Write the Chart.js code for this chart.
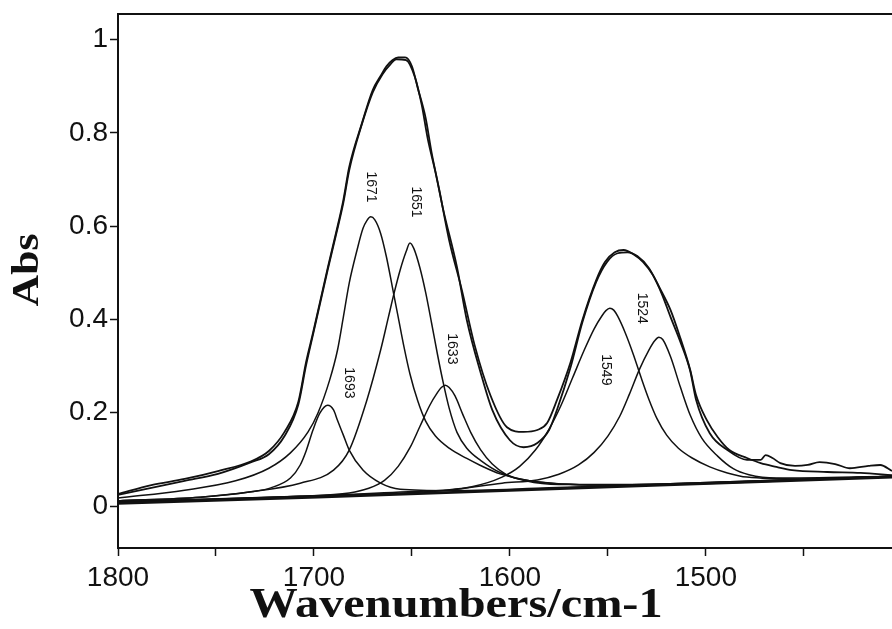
<!DOCTYPE html>
<html>
<head>
<meta charset="utf-8">
<script src="https://cdn.jsdelivr.net/npm/chart.js@4.4.1/dist/chart.umd.min.js"></script>
<style>
  html, body { margin: 0; padding: 0; background: #fff; }
  #wrap { width: 892px; height: 629px; position: relative; }
</style>
</head>
<body>
<div id="wrap"><canvas id="spectrum"></canvas></div>
<script>
// Amide I / amide II band fit: measured trace, fitted envelope, six component bands and the baseline.
// Points are [wavenumber, absorbance].

const xTicks = [1800, 1750, 1700, 1650, 1600, 1550, 1500, 1450];
const yTicks = [0, 0.2, 0.4, 0.6, 0.8, 1];

const measured = [
  [1800, 0.026], [1783, 0.045], [1766, 0.058], [1749, 0.075], [1732, 0.096], [1723, 0.118],
  [1715, 0.159], [1708, 0.223], [1704, 0.309], [1700.5, 0.371], [1693, 0.510], [1689, 0.581],
  [1685, 0.656], [1682, 0.727], [1675.5, 0.821], [1670, 0.892], [1666, 0.922], [1663, 0.943],
  [1660, 0.956], [1657, 0.962], [1653.5, 0.962], [1650, 0.943], [1647, 0.896], [1643, 0.832],
  [1640, 0.759], [1636, 0.677], [1631, 0.570], [1624.5, 0.463], [1618, 0.345], [1610, 0.238],
  [1601.5, 0.169], [1593, 0.159], [1586, 0.163], [1581, 0.178], [1576, 0.227], [1569, 0.309],
  [1563, 0.399], [1556, 0.484], [1551.5, 0.523], [1546.5, 0.544], [1542, 0.549], [1537, 0.540],
  [1532, 0.523], [1527, 0.495], [1522.5, 0.455], [1518, 0.405], [1513, 0.352], [1508, 0.290],
  [1505, 0.228], [1498, 0.156], [1489, 0.120], [1479, 0.099], [1472, 0.099], [1469.5, 0.109],
  [1466, 0.103], [1462, 0.092], [1454.5, 0.086], [1448, 0.088], [1442, 0.094], [1434, 0.090],
  [1426.5, 0.081], [1417, 0.086], [1411, 0.088], [1405, 0.075]
];

const fitted = [
  [1800, 0.024], [1783, 0.039], [1766, 0.054], [1749, 0.069], [1732, 0.094], [1723, 0.111],
  [1715, 0.150], [1708, 0.217], [1704, 0.302], [1700.5, 0.367], [1693, 0.506], [1689, 0.577],
  [1685, 0.650], [1682, 0.720], [1675.5, 0.819], [1670, 0.887], [1665, 0.926], [1661, 0.947],
  [1658, 0.958], [1653, 0.956], [1648.5, 0.920], [1645, 0.860], [1642, 0.789], [1638, 0.716],
  [1634, 0.635], [1627, 0.512], [1622, 0.399], [1615, 0.287], [1609, 0.206], [1600, 0.141],
  [1593, 0.126], [1586, 0.135], [1580, 0.163], [1576, 0.206], [1569, 0.298], [1563, 0.394],
  [1556, 0.480], [1550.5, 0.523], [1545, 0.542], [1540, 0.544], [1535, 0.536], [1529, 0.510],
  [1523.5, 0.467], [1518, 0.420], [1513, 0.360], [1508, 0.292], [1505, 0.238], [1499.5, 0.184],
  [1494, 0.148], [1488, 0.120], [1479, 0.103], [1472, 0.092], [1464, 0.084], [1456, 0.077],
  [1438, 0.073], [1421, 0.071], [1405, 0.066]
];

const baseline = [[1800, 0.006], [1698, 0.019], [1523.5, 0.045], [1405, 0.062]];

const band1693 = [
  [1800, 0.011], [1758, 0.019], [1733, 0.030], [1722, 0.039], [1712, 0.060], [1707, 0.088],
  [1704, 0.118], [1700.5, 0.163], [1697, 0.199], [1693, 0.216], [1690, 0.206], [1688, 0.184],
  [1685, 0.152], [1682, 0.120], [1675, 0.077], [1666, 0.049], [1656, 0.036], [1631, 0.033],
  [1580, 0.039], [1503, 0.049], [1405, 0.063]
];

const band1671 = [
  [1800, 0.017], [1766, 0.034], [1740, 0.054], [1723, 0.081], [1712, 0.114], [1703, 0.159],
  [1698, 0.199], [1692, 0.270], [1688, 0.334], [1685, 0.405], [1682, 0.478], [1678, 0.549],
  [1675, 0.595], [1673, 0.612], [1671, 0.620], [1669, 0.614], [1666, 0.585], [1663, 0.534],
  [1660, 0.470], [1657, 0.405], [1654, 0.340], [1651, 0.283], [1647, 0.225], [1643, 0.182],
  [1638, 0.150], [1631, 0.124], [1622, 0.102], [1615, 0.087], [1605, 0.069], [1590, 0.054],
  [1554, 0.045], [1503, 0.050], [1405, 0.064]
];

const band1651 = [
  [1800, 0.011], [1758, 0.019], [1733, 0.030], [1707, 0.049], [1690, 0.077], [1682, 0.120],
  [1673, 0.227], [1666, 0.334], [1662, 0.405], [1659, 0.458], [1656, 0.506], [1653, 0.545],
  [1651, 0.564], [1649, 0.552], [1646, 0.512], [1643, 0.458], [1640, 0.393], [1637, 0.326],
  [1634, 0.264], [1631, 0.210], [1627, 0.158], [1622, 0.124], [1615, 0.098], [1605, 0.072],
  [1590, 0.054], [1554, 0.045], [1503, 0.050], [1405, 0.064]
];

const band1633 = [
  [1800, 0.009], [1758, 0.014], [1707, 0.021], [1682, 0.028], [1672, 0.038], [1664, 0.055],
  [1657, 0.085], [1651, 0.125], [1646, 0.170], [1641, 0.215], [1637, 0.243], [1635, 0.254],
  [1633, 0.259], [1631, 0.254], [1628, 0.236], [1624, 0.196], [1620, 0.158], [1615, 0.121],
  [1609, 0.090], [1602, 0.068], [1592, 0.054], [1575, 0.046], [1529, 0.046], [1405, 0.064]
];

const band1549 = [
  [1800, 0.009], [1707, 0.021], [1656, 0.030], [1620, 0.041], [1604, 0.062], [1595, 0.085],
  [1587, 0.120], [1580, 0.165], [1574, 0.215], [1568, 0.275], [1562, 0.335], [1557, 0.380],
  [1553, 0.408], [1551, 0.419], [1549, 0.424], [1547, 0.420], [1545, 0.407], [1541, 0.370],
  [1537, 0.325], [1533, 0.275], [1529, 0.228], [1525, 0.188], [1520, 0.152], [1514, 0.124],
  [1507, 0.103], [1498, 0.084], [1489, 0.071], [1479, 0.062], [1452, 0.058], [1405, 0.064]
];

const band1524 = [
  [1800, 0.009], [1682, 0.024], [1631, 0.034], [1604, 0.049], [1586, 0.056], [1575, 0.068],
  [1565, 0.088], [1557, 0.115], [1550, 0.150], [1544, 0.192], [1539, 0.240], [1534, 0.292],
  [1529, 0.335], [1526, 0.355], [1524, 0.362], [1522, 0.357], [1518, 0.320], [1513, 0.255],
  [1508, 0.195], [1502, 0.145], [1494, 0.107], [1486, 0.080], [1478, 0.067], [1464, 0.060],
  [1405, 0.064]
];

const bandNames = ['1693', '1671', '1651', '1633', '1549', '1524'];
const bands = [band1693, band1671, band1651, band1633, band1549, band1524];
// where each band's name sits (wavenumber, absorbance)
const labelAnchors = [[1682, 0.264], [1671, 0.684], [1648, 0.652], [1629.5, 0.337], [1551, 0.292], [1532.5, 0.424]];

const INK = '#111';
const SANS = '"Liberation Sans", Arial, sans-serif';
const SERIF = '"Liberation Serif", "Times New Roman", serif';

const toPts = arr => arr.map(([x, y]) => ({ x, y }));

function trace(label, arr, width, smooth) {
    return {
        label,
        data: toPts(arr),
        borderColor: INK,
        borderWidth: width,
        pointRadius: 0,
        fill: false,
        cubicInterpolationMode: smooth ? 'monotone' : 'default',
        tension: 0,
    };
}

const datasets = [
    trace('baseline', baseline, 2.8, false),
    ...bands.map((b, i) => trace(bandNames[i], b, 1.5, true)),
    trace('fit', fitted, 1.8, true),
    trace('measured', measured, 1.8, true),
];

// top rule of the frame, rotated band names and the two axis titles
const frameAndLabels = {
    id: 'frameAndLabels',
    afterDatasetsDraw(chart) {
        const { ctx, chartArea, scales: { x, y } } = chart;
        ctx.save();
        ctx.strokeStyle = INK;
        ctx.lineWidth = 2;
        ctx.beginPath();
        ctx.moveTo(chartArea.left, chartArea.top);
        ctx.lineTo(chartArea.right, chartArea.top);
        ctx.stroke();

        ctx.fillStyle = INK;
        ctx.font = '14px ' + SANS;
        ctx.textAlign = 'center';
        ctx.textBaseline = 'middle';
        bandNames.forEach((name, i) => {
            const [wn, abs] = labelAnchors[i];
            ctx.save();
            ctx.translate(x.getPixelForValue(wn), y.getPixelForValue(abs));
            ctx.rotate(Math.PI / 2);
            ctx.fillText(name, 0, 0);
            ctx.restore();
        });

        // axis titles, set in a wide bold serif
        ctx.textBaseline = 'alphabetic';
        ctx.font = 'bold 42px ' + SERIF;
        ctx.save();
        ctx.translate(456, 617);
        ctx.scale(1.15, 1);
        ctx.fillText('Wavenumbers/cm-1', 0, 0);
        ctx.restore();

        ctx.font = 'bold 37px ' + SERIF;
        ctx.save();
        ctx.translate(38, 270);
        ctx.rotate(-Math.PI / 2);
        ctx.scale(1.18, 1);
        ctx.fillText('Abs', 0, 0);
        ctx.restore();
        ctx.restore();
    }
};

const axisGrid = { drawOnChartArea: false, drawTicks: true, tickLength: 8, tickColor: INK, tickWidth: 1.5 };
const axisBorder = { display: true, color: INK, width: 2 };

new Chart(document.getElementById('spectrum'), {
    type: 'line',
    data: { datasets },
    plugins: [frameAndLabels],
    options: {
        responsive: true,
        maintainAspectRatio: false,
        animation: false,
        layout: { padding: { top: 14, right: 0, bottom: 0, left: 0 } },
        plugins: { legend: { display: false }, tooltip: { enabled: false } },
        scales: {
            x: {
                type: 'linear',
                reverse: true,
                min: 1405,
                max: 1800,
                afterBuildTicks: s => { s.ticks = xTicks.map(v => ({ value: v })); },
                afterFit: s => { s.height = 81; s.paddingLeft = 0; s.paddingRight = 0; },
                ticks: {
                    color: INK,
                    font: { family: SANS, size: 28 },
                    padding: 5,
                    maxRotation: 0,
                    autoSkip: false,
                    callback: v => (v % 100 === 0 ? String(v) : ''),
                },
                grid: axisGrid,
                border: axisBorder,
            },
            y: {
                type: 'linear',
                min: -0.09,
                max: 1.055,
                afterBuildTicks: s => { s.ticks = yTicks.map(v => ({ value: v })); },
                afterFit: s => { s.width = 118; s.paddingTop = 0; s.paddingBottom = 0; },
                ticks: {
                    color: INK,
                    font: { family: SANS, size: 28 },
                    padding: 2,
                    callback: v => String(v),
                },
                grid: axisGrid,
                border: axisBorder,
            },
        },
    },
});
</script>
</body>
</html>
